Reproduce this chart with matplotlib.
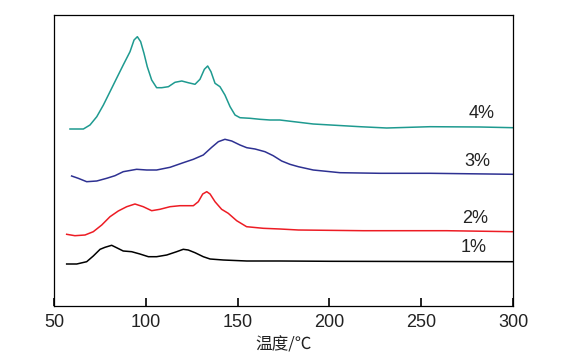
import matplotlib
matplotlib.use("Agg")
import matplotlib.pyplot as plt

plt.rcParams['font.family'] = ['Liberation Sans', 'Noto Sans CJK SC', 'DejaVu Sans']

# ============ DATA (temperature / signal, arbitrary units) ============
t_4 = [58.7, 66.0, 69.6, 73.3, 76.9, 80.5, 84.1, 87.7, 91.4, 93.6, 95.4, 97.2, 99.0,
       100.8, 103.2, 105.9, 108.7, 112.3, 115.9, 119.6, 123.1, 126.8, 129.5, 131.9,
       133.7, 135.5, 137.7, 140.4, 143.1, 145.9, 148.6, 151.3, 156.8, 162.2, 167.6,
       173, 191.2, 216.7, 231.2, 254.8, 282, 300]
y_4 = [177, 177, 181, 189.3, 201, 214.3, 227.7, 241, 254.3, 266, 269.3, 264.3, 252.7,
       239.3, 226, 218.3, 218.3, 219.3, 223.7, 225, 223.3, 221.7, 226.7, 236.7,
       240, 234.3, 222.7, 219.3, 211, 199.3, 191, 188.3, 187.7, 186.7, 186,
       186, 182, 179.3, 178, 179.3, 179, 178.3]

t_3 = [59.6, 63.2, 67.8, 73.3, 78.7, 83.2, 87.7, 95.0, 100.5, 105.9, 113.2, 120.4, 125.9,
       131.3, 135.9, 139.5, 143.1, 146.8, 151.3, 155.0, 159.5, 164.9, 169.4, 174.0,
       178.5, 183.1, 191.2, 205.8, 227.6, 254.8, 300]
y_3 = [130, 127.7, 124.3, 125, 127.7, 130.3, 134.3, 136.7, 136, 136, 138.7, 143.3, 146.7,
       151, 158.7, 164.3, 166.7, 165, 161, 158.3, 157, 154.3, 150.3, 145,
       141.7, 139.3, 136, 133.3, 132.7, 132.7, 131.7]

t_2 = [56.9, 61.4, 66.9, 71.4, 76.0, 80.5, 85.0, 89.6, 94.1, 98.6, 103.2, 107.7, 113.2,
       118.6, 125.9, 128.6, 131.0, 133.2, 135.0, 137.7, 141.3, 144.9, 149.5, 154.9,
       164.0, 173.1, 183.1, 218.5, 263.9, 300]
y_2 = [71.7, 70.3, 71, 74.3, 81, 89.3, 95, 99.3, 102, 99.3, 95.3, 96.7, 99.3,
       100.3, 100.3, 104.3, 112, 114.3, 112, 104.3, 96.7, 92.7, 85.3, 79.3,
       77.7, 77, 76, 75.3, 75.3, 74.3]

t_1 = [56.9, 62.4, 67.8, 71.4, 75.1, 77.8, 81.4, 84.1, 87.7, 92.3, 96.8, 101.4, 105.9,
       111.4, 116.8, 120.4, 123.1, 126.8, 131.3, 135.0, 142.2, 155.0, 173.1, 200, 300]
y_1 = [42, 42, 44.3, 50, 56.7, 58.7, 60.7, 58.3, 55, 54.3, 52, 49.3, 49.3,
       51, 54.3, 56.7, 56, 53.3, 49.3, 47, 46, 45, 45, 44.7, 44.3]

labels = ["1%", "2%", "3%", "4%"]
label_pos = [(278.4, 58.7), (279.3, 87.7), (280.8, 145), (282.9, 192.7)]
colors = ["black", "#ed1c24", "#2e3192", "#1e9a90"]

# ============ PLOT ============
fig = plt.figure(figsize=(5.7, 3.63), dpi=100)
ax = fig.add_axes([54 / 570, 57 / 363, 459 / 570, 291 / 363])

series = [(t_1, y_1), (t_2, y_2), (t_3, y_3), (t_4, y_4)]
for (tx, ty), c, lab, (lx, ly) in zip(series, colors, labels, label_pos):
    ax.plot(tx, ty, color=c, lw=1.1)
    ax.text(lx, ly, lab, ha="center", va="center", fontsize=13, color="#222222")

ax.set_xlim(50, 300)
ax.set_ylim(0, 291)
ax.set_xticks([50, 100, 150, 200, 250, 300])
ax.set_yticks([])
ax.tick_params(axis="x", direction="in", length=6, width=1.2, labelsize=13,
               pad=6, labelcolor="#222222")
for s in ax.spines.values():
    s.set_linewidth(0.9)
ax.set_xlabel("温度/℃", fontsize=12, labelpad=4, color="#222222",
              family=['Noto Sans CJK SC', 'DejaVu Sans'])

fig.savefig("out.png", dpi=100)
